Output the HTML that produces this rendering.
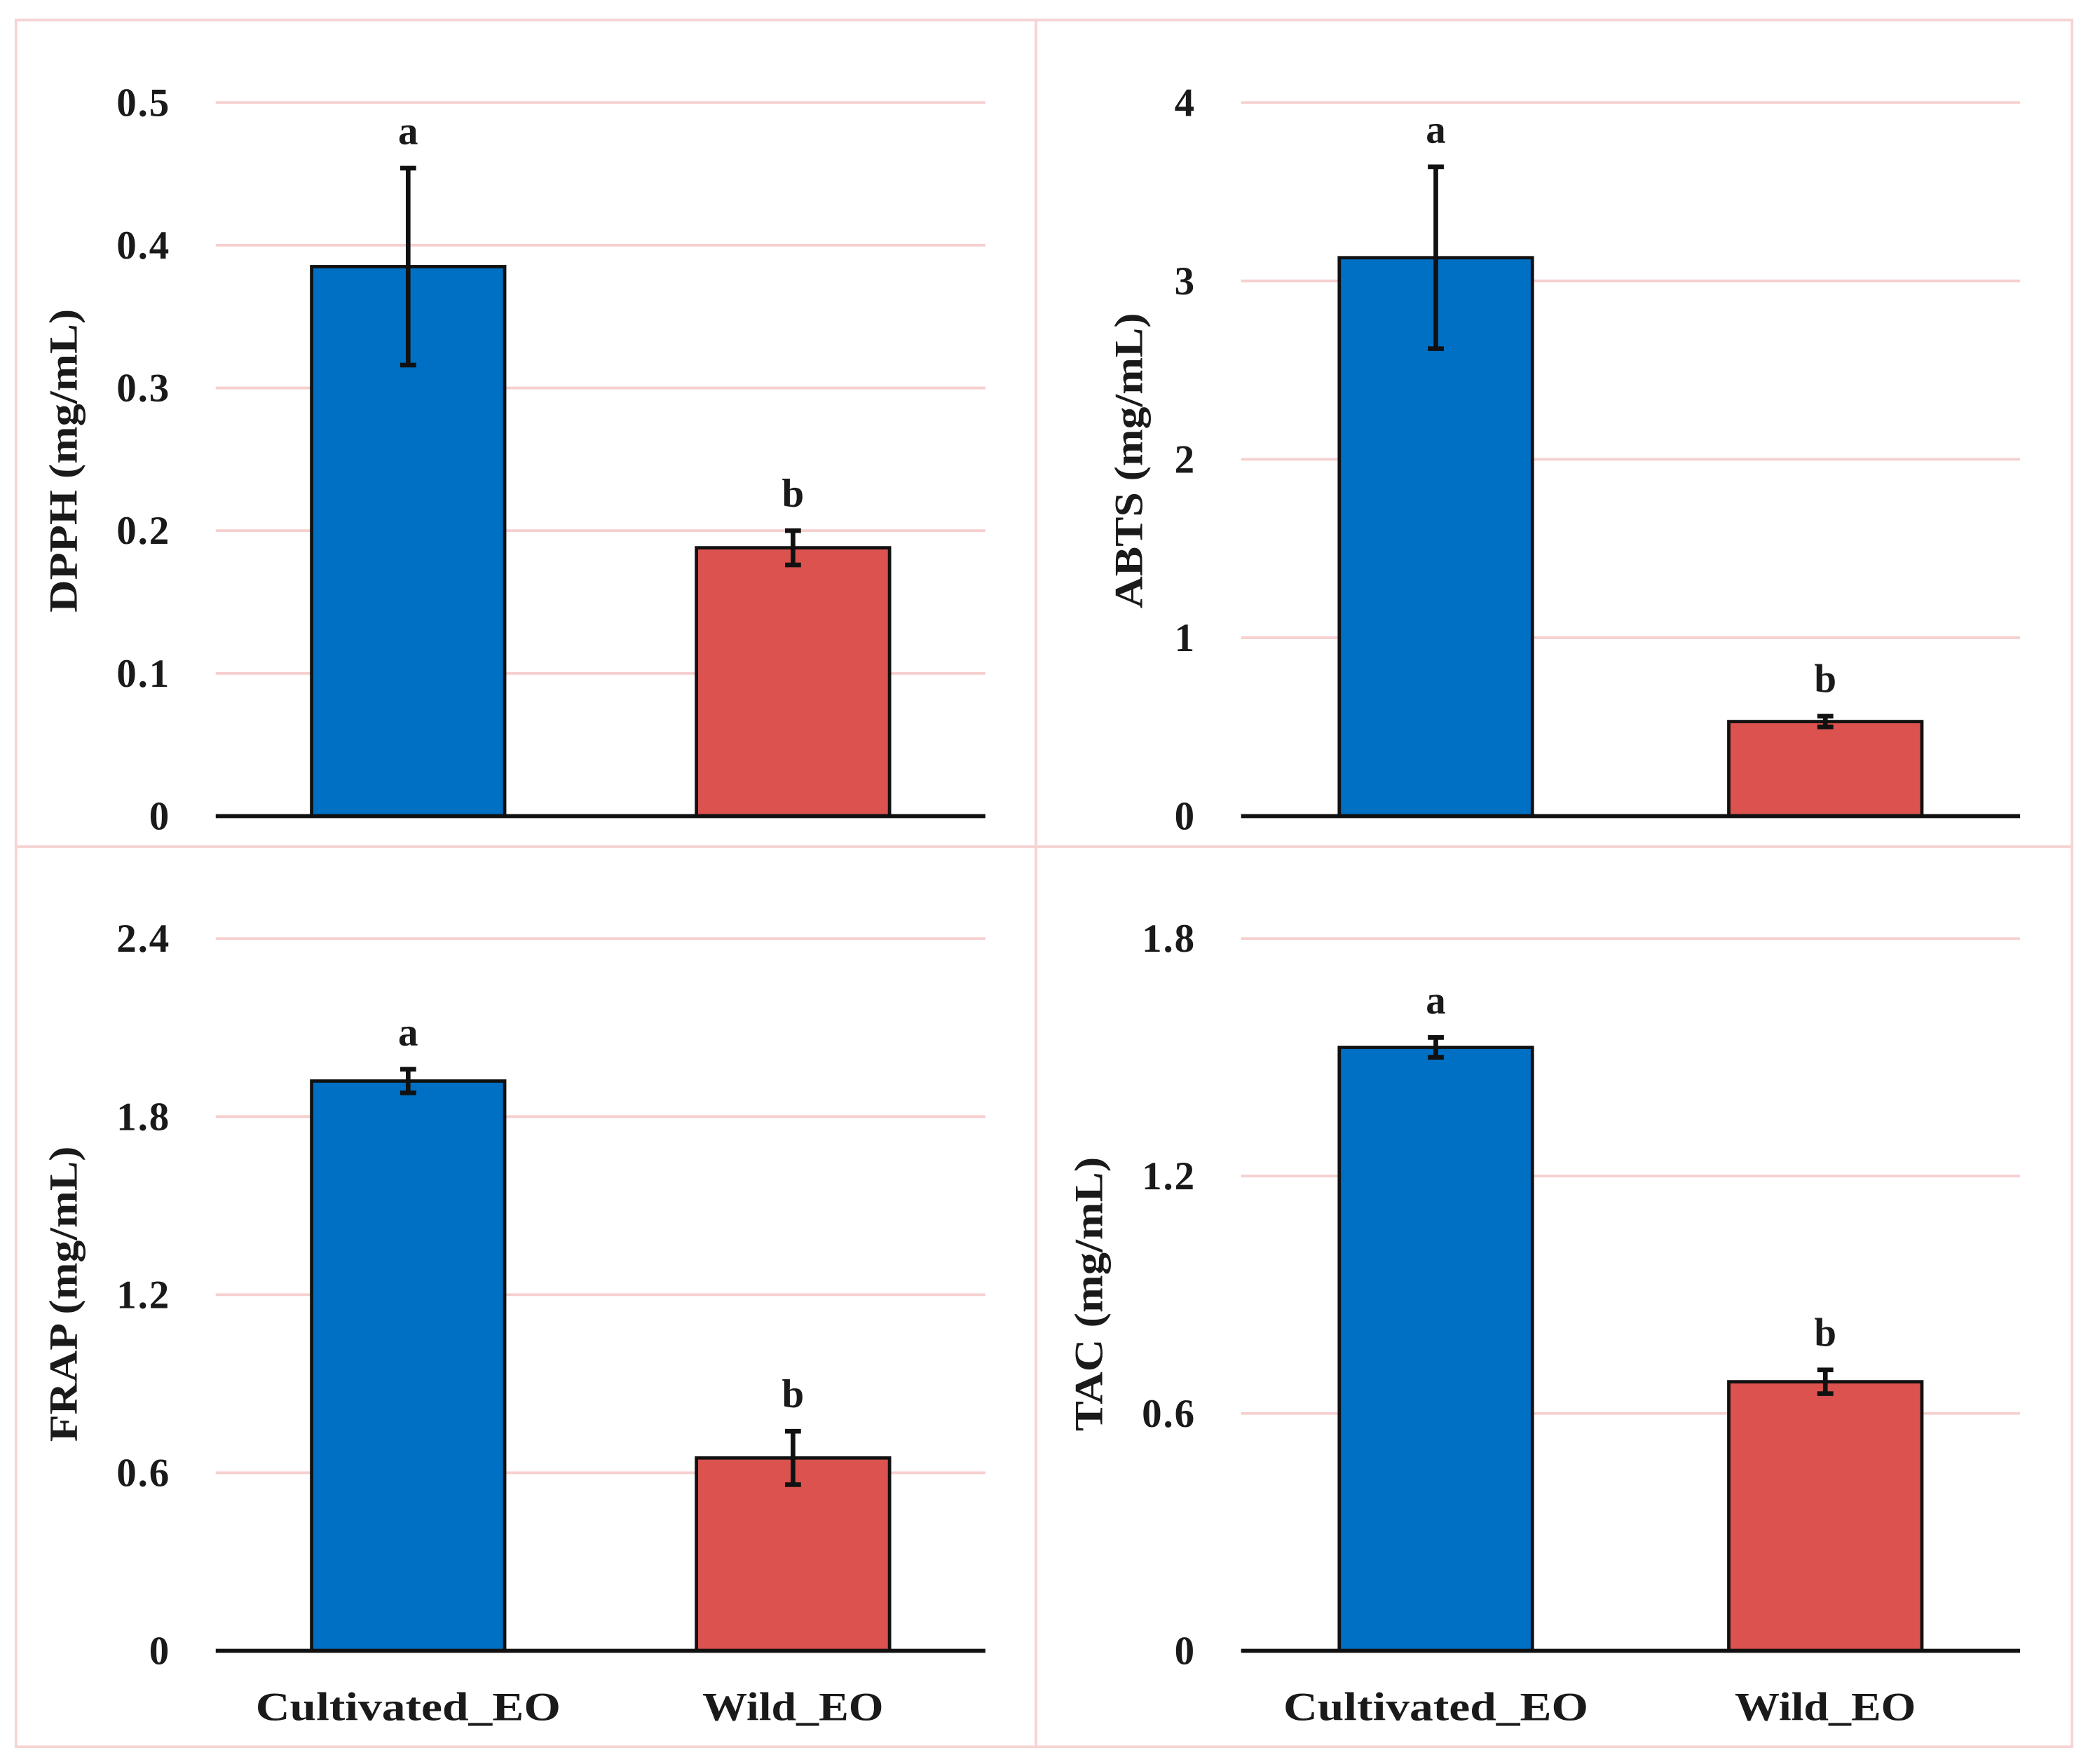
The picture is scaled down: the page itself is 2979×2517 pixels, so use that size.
<!DOCTYPE html>
<html><head><meta charset="utf-8"><style>
html,body{margin:0;padding:0;background:#fff;}
svg{display:block;}
text{font-family:"Liberation Serif",serif;font-weight:bold;fill:#1a1a1a;}
</style></head><body>
<svg id="fig" width="2979" height="2517" viewBox="0 0 1568 1325" preserveAspectRatio="none" xmlns="http://www.w3.org/2000/svg">
<g fill="none" stroke="#f6d4d4" stroke-width="2">
<rect x="12" y="15" width="766" height="621"/>
<rect x="778" y="15" width="778" height="621"/>
<rect x="12" y="636" width="766" height="676"/>
<rect x="778" y="636" width="778" height="676"/>
</g>
</svg>
<script>
const categories = ["Cultivated_EO","Wild_EO"];
const dpphValues = [0.385, 0.188];
const dpphErrors = [0.069, 0.012];
const abtsValues = [3.13, 0.53];
const abtsErrors = [0.51, 0.03];
const frapValues = [1.92, 0.65];
const frapErrors = [0.04, 0.09];
const tacValues = [1.525, 0.68];
const tacErrors = [0.025, 0.03];
const letters = ["a","b"];
const dpphTicks = [0,0.1,0.2,0.3,0.4,0.5];
const abtsTicks = [0,1,2,3,4];
const frapTicks = [0,0.6,1.2,1.8,2.4];
const tacTicks = [0,0.6,1.2,1.8];

const NS = "http://www.w3.org/2000/svg";
const svg = document.getElementById("fig");
function mk(tag, attrs, parent, txt){
  const e = document.createElementNS(NS, tag);
  for (const k in attrs) e.setAttribute(k, attrs[k]);
  if (txt !== undefined) e.textContent = txt;
  parent.appendChild(e);
  return e;
}
const colors = ["#0070c4","#dc524f"];
const xLabelLen = [229, 136];

function chart(id, title, vals, errs, ticks, box, showX){
  const g = mk("g", {}, svg);
  
  
  const ymax = ticks[ticks.length-1];
  const y = v => box.y0 - (v / ymax) * (box.y0 - box.yTop);
  const bw = box.x1 - box.x0;
  const xc = i => box.x0 + bw * (0.25 + 0.5 * i);
  ticks.forEach((t) => {
    if (t !== 0) {
      const gl = mk("line", {x1: box.x0, x2: box.x1, y1: y(t), y2: y(t), stroke: "#f6cfcf", "stroke-width": 2}, g);
      
      
    }
    const tl = mk("text", {x: box.x0 - 34, y: y(t) + 10, "text-anchor": "end", "font-size": 30, "letter-spacing": 1}, g, String(t));
    
    
  });
  const cy = box.titleY;
  const tx = box.titleX;
  const yt = mk("text", {x: tx, y: cy, "text-anchor": "middle", "dominant-baseline": "central", "font-size": 30, textLength: box.titleLen, lengthAdjust: "spacingAndGlyphs", transform: `rotate(-90 ${tx} ${cy})`}, g, title);
  
  
  vals.forEach((v, i) => {
    const cx = xc(i);
    const r = mk("rect", {x: cx - 72.5, y: y(v), width: 145, height: box.y0 - y(v), fill: colors[i], stroke: "#111", "stroke-width": 2.5}, g);
    
    
    const e = errs[i];
    const eg = mk("g", {stroke: "#111", "stroke-width": 3.5}, g);
    
    
    mk("line", {x1: cx, x2: cx, y1: y(v + e), y2: y(v - e)}, eg);
    mk("line", {x1: cx - 6, x2: cx + 6, y1: y(v + e), y2: y(v + e)}, eg);
    mk("line", {x1: cx - 6, x2: cx + 6, y1: y(v - e), y2: y(v - e)}, eg);
    const lt = mk("text", {x: cx, y: y(v + e) - 18, "text-anchor": "middle", "font-size": 30}, g, letters[i]);
    
    
    if (showX) {
      const xl = mk("text", {x: cx, y: box.y0 + 52, "text-anchor": "middle", "font-size": 30, textLength: xLabelLen[i], lengthAdjust: "spacingAndGlyphs"}, g, categories[i]);
      
      
    }
  });
  const ax = mk("line", {x1: box.x0, x2: box.x1, y1: box.y0, y2: box.y0, stroke: "#111", "stroke-width": 3}, g);
  
  
}
chart("dpph", "DPPH (mg/mL)", dpphValues, dpphErrors, dpphTicks, {x0:162, x1:740, y0:613, yTop:77, titleX:48, titleY:346, titleLen:228}, false);
chart("abts", "ABTS (mg/mL)", abtsValues, abtsErrors, abtsTicks, {x0:932, x1:1517, y0:613, yTop:77, titleX:848, titleY:346, titleLen:222}, false);
chart("frap", "FRAP (mg/mL)", frapValues, frapErrors, frapTicks, {x0:162, x1:740, y0:1240, yTop:705, titleX:48, titleY:972, titleLen:222}, true);
chart("tac", "TAC (mg/mL)", tacValues, tacErrors, tacTicks, {x0:932, x1:1517, y0:1240, yTop:705, titleX:818, titleY:972, titleLen:206}, true);
</script>
</body></html>
